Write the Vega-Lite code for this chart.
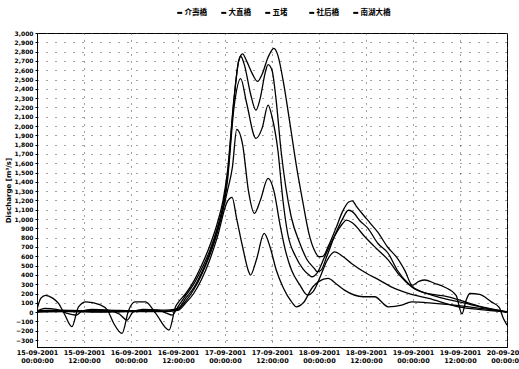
{
  "$schema": "https://vega.github.io/schema/vega-lite/v6.json",
  "autosize": "none",
  "width": 470,
  "height": 314,
  "padding": {"left": 37, "top": 33, "right": 12, "bottom": 22},
  "background": "white",
  "config": {
    "font": "DejaVu Sans",
    "view": {"stroke": "black", "strokeWidth": 1},
    "axis": {"labelFont": "DejaVu Sans", "titleFont": "DejaVu Sans", "labelColor": "black", "titleColor": "black", "domainColor": "black", "tickColor": "black"}
  },
  "datasets": {
    "flow": [
      {"s":"大直橋","t":"2001-09-15T00:00","v":30},{"s":"大直橋","t":"2001-09-15T01:00","v":150},{"s":"大直橋","t":"2001-09-15T02:12","v":180},{"s":"大直橋","t":"2001-09-15T04:00","v":150},{"s":"大直橋","t":"2001-09-15T05:30","v":93},{"s":"大直橋","t":"2001-09-15T07:00","v":-20},{"s":"大直橋","t":"2001-09-15T08:54","v":-157},{"s":"大直橋","t":"2001-09-15T10:36","v":57},{"s":"大直橋","t":"2001-09-15T12:30","v":110},{"s":"大直橋","t":"2001-09-15T16:00","v":80},{"s":"大直橋","t":"2001-09-15T18:00","v":20},{"s":"大直橋","t":"2001-09-15T19:36","v":-122},{"s":"大直橋","t":"2001-09-15T21:42","v":-229},{"s":"大直橋","t":"2001-09-15T23:24","v":21},{"s":"大直橋","t":"2001-09-16T01:00","v":110},{"s":"大直橋","t":"2001-09-16T03:42","v":110},{"s":"大直橋","t":"2001-09-16T06:18","v":-14},{"s":"大直橋","t":"2001-09-16T09:42","v":-193},{"s":"大直橋","t":"2001-09-16T11:24","v":60},{"s":"大直橋","t":"2001-09-16T12:00","v":100},{"s":"大直橋","t":"2001-09-16T14:00","v":200},{"s":"大直橋","t":"2001-09-16T16:00","v":330},{"s":"大直橋","t":"2001-09-16T18:00","v":500},{"s":"大直橋","t":"2001-09-16T20:00","v":700},{"s":"大直橋","t":"2001-09-16T22:00","v":950},{"s":"大直橋","t":"2001-09-16T23:30","v":1200},{"s":"大直橋","t":"2001-09-17T00:36","v":1500},{"s":"大直橋","t":"2001-09-17T02:18","v":2300},{"s":"大直橋","t":"2001-09-17T03:30","v":2700},{"s":"大直橋","t":"2001-09-17T04:30","v":2775},{"s":"大直橋","t":"2001-09-17T05:30","v":2700},{"s":"大直橋","t":"2001-09-17T07:00","v":2560},{"s":"大直橋","t":"2001-09-17T08:18","v":2480},{"s":"大直橋","t":"2001-09-17T09:30","v":2560},{"s":"大直橋","t":"2001-09-17T11:00","v":2740},{"s":"大直橋","t":"2001-09-17T12:30","v":2835},{"s":"大直橋","t":"2001-09-17T13:30","v":2760},{"s":"大直橋","t":"2001-09-17T15:00","v":2450},{"s":"大直橋","t":"2001-09-17T16:30","v":2050},{"s":"大直橋","t":"2001-09-17T18:12","v":1580},{"s":"大直橋","t":"2001-09-17T19:48","v":1200},{"s":"大直橋","t":"2001-09-17T21:24","v":850},{"s":"大直橋","t":"2001-09-17T22:48","v":667},{"s":"大直橋","t":"2001-09-18T00:00","v":595},{"s":"大直橋","t":"2001-09-18T01:00","v":600},{"s":"大直橋","t":"2001-09-18T02:30","v":720},{"s":"大直橋","t":"2001-09-18T04:18","v":900},{"s":"大直橋","t":"2001-09-18T06:00","v":1080},{"s":"大直橋","t":"2001-09-18T07:30","v":1180},{"s":"大直橋","t":"2001-09-18T08:30","v":1195},{"s":"大直橋","t":"2001-09-18T09:30","v":1140},{"s":"大直橋","t":"2001-09-18T11:00","v":1060},{"s":"大直橋","t":"2001-09-18T13:00","v":960},{"s":"大直橋","t":"2001-09-18T15:00","v":860},{"s":"大直橋","t":"2001-09-18T17:30","v":700},{"s":"大直橋","t":"2001-09-18T20:00","v":580},{"s":"大直橋","t":"2001-09-18T22:00","v":440},{"s":"大直橋","t":"2001-09-18T23:48","v":290},{"s":"大直橋","t":"2001-09-19T01:30","v":330},{"s":"大直橋","t":"2001-09-19T03:00","v":345},{"s":"大直橋","t":"2001-09-19T05:30","v":310},{"s":"大直橋","t":"2001-09-19T08:00","v":270},{"s":"大直橋","t":"2001-09-19T11:00","v":180},{"s":"大直橋","t":"2001-09-19T12:30","v":-20},{"s":"大直橋","t":"2001-09-19T13:30","v":120},{"s":"大直橋","t":"2001-09-19T14:30","v":200},{"s":"大直橋","t":"2001-09-19T17:00","v":190},{"s":"大直橋","t":"2001-09-19T20:00","v":110},{"s":"大直橋","t":"2001-09-19T22:00","v":50},{"s":"大直橋","t":"2001-09-19T23:00","v":-60},{"s":"大直橋","t":"2001-09-20T00:00","v":-140},

      {"s":"南湖大橋","t":"2001-09-15T00:00","v":10},{"s":"南湖大橋","t":"2001-09-15T02:00","v":40},{"s":"南湖大橋","t":"2001-09-15T05:00","v":30},{"s":"南湖大橋","t":"2001-09-15T07:30","v":-10},{"s":"南湖大橋","t":"2001-09-15T10:00","v":-32},{"s":"南湖大橋","t":"2001-09-15T11:30","v":10},{"s":"南湖大橋","t":"2001-09-15T14:00","v":30},{"s":"南湖大橋","t":"2001-09-15T18:00","v":20},{"s":"南湖大橋","t":"2001-09-15T21:00","v":-20},{"s":"南湖大橋","t":"2001-09-15T23:00","v":-86},{"s":"南湖大橋","t":"2001-09-16T00:30","v":0},{"s":"南湖大橋","t":"2001-09-16T03:00","v":30},{"s":"南湖大橋","t":"2001-09-16T07:00","v":20},{"s":"南湖大橋","t":"2001-09-16T09:00","v":-10},{"s":"南湖大橋","t":"2001-09-16T10:30","v":-32},{"s":"南湖大橋","t":"2001-09-16T12:00","v":60},{"s":"南湖大橋","t":"2001-09-16T14:00","v":180},{"s":"南湖大橋","t":"2001-09-16T16:00","v":300},{"s":"南湖大橋","t":"2001-09-16T18:00","v":460},{"s":"南湖大橋","t":"2001-09-16T20:00","v":650},{"s":"南湖大橋","t":"2001-09-16T22:00","v":900},{"s":"南湖大橋","t":"2001-09-16T23:30","v":1150},{"s":"南湖大橋","t":"2001-09-17T00:36","v":1450},{"s":"南湖大橋","t":"2001-09-17T02:18","v":2280},{"s":"南湖大橋","t":"2001-09-17T03:30","v":2700},{"s":"南湖大橋","t":"2001-09-17T04:00","v":2750},{"s":"南湖大橋","t":"2001-09-17T05:00","v":2650},{"s":"南湖大橋","t":"2001-09-17T06:30","v":2350},{"s":"南湖大橋","t":"2001-09-17T07:54","v":2170},{"s":"南湖大橋","t":"2001-09-17T09:00","v":2300},{"s":"南湖大橋","t":"2001-09-17T10:18","v":2580},{"s":"南湖大橋","t":"2001-09-17T11:00","v":2660},{"s":"南湖大橋","t":"2001-09-17T12:00","v":2600},{"s":"南湖大橋","t":"2001-09-17T13:00","v":2300},{"s":"南湖大橋","t":"2001-09-17T14:18","v":1740},{"s":"南湖大橋","t":"2001-09-17T15:30","v":1350},{"s":"南湖大橋","t":"2001-09-17T16:54","v":1025},{"s":"南湖大橋","t":"2001-09-17T19:00","v":750},{"s":"南湖大橋","t":"2001-09-17T21:00","v":560},{"s":"南湖大橋","t":"2001-09-17T22:48","v":470},{"s":"南湖大橋","t":"2001-09-17T23:30","v":435},{"s":"南湖大橋","t":"2001-09-18T00:30","v":450},{"s":"南湖大橋","t":"2001-09-18T02:00","v":600},{"s":"南湖大橋","t":"2001-09-18T04:00","v":820},{"s":"南湖大橋","t":"2001-09-18T06:00","v":1000},{"s":"南湖大橋","t":"2001-09-18T07:30","v":1095},{"s":"南湖大橋","t":"2001-09-18T08:30","v":1080},{"s":"南湖大橋","t":"2001-09-18T10:30","v":980},{"s":"南湖大橋","t":"2001-09-18T12:30","v":900},{"s":"南湖大橋","t":"2001-09-18T15:00","v":740},{"s":"南湖大橋","t":"2001-09-18T17:42","v":630},{"s":"南湖大橋","t":"2001-09-18T20:00","v":450},{"s":"南湖大橋","t":"2001-09-18T22:48","v":308},{"s":"南湖大橋","t":"2001-09-19T02:12","v":218},{"s":"南湖大橋","t":"2001-09-19T09:00","v":165},{"s":"南湖大橋","t":"2001-09-19T17:36","v":57},{"s":"南湖大橋","t":"2001-09-20T00:00","v":5},

      {"s":"社后橋","t":"2001-09-15T00:00","v":15},{"s":"社后橋","t":"2001-09-15T06:00","v":20},{"s":"社后橋","t":"2001-09-15T12:00","v":15},{"s":"社后橋","t":"2001-09-15T18:00","v":20},{"s":"社后橋","t":"2001-09-16T00:00","v":15},{"s":"社后橋","t":"2001-09-16T06:00","v":20},{"s":"社后橋","t":"2001-09-16T10:00","v":25},{"s":"社后橋","t":"2001-09-16T12:00","v":40},{"s":"社后橋","t":"2001-09-16T14:00","v":150},{"s":"社后橋","t":"2001-09-16T16:00","v":260},{"s":"社后橋","t":"2001-09-16T18:00","v":420},{"s":"社后橋","t":"2001-09-16T20:00","v":620},{"s":"社后橋","t":"2001-09-16T22:00","v":880},{"s":"社后橋","t":"2001-09-17T00:36","v":1400},{"s":"社后橋","t":"2001-09-17T02:18","v":2200},{"s":"社后橋","t":"2001-09-17T04:00","v":2510},{"s":"社后橋","t":"2001-09-17T05:30","v":2250},{"s":"社后橋","t":"2001-09-17T07:54","v":1867},{"s":"社后橋","t":"2001-09-17T09:30","v":1980},{"s":"社后橋","t":"2001-09-17T11:00","v":2225},{"s":"社后橋","t":"2001-09-17T12:00","v":2100},{"s":"社后橋","t":"2001-09-17T13:30","v":1740},{"s":"社后橋","t":"2001-09-17T14:48","v":1200},{"s":"社后橋","t":"2001-09-17T16:00","v":845},{"s":"社后橋","t":"2001-09-17T18:00","v":600},{"s":"社后橋","t":"2001-09-17T20:00","v":460},{"s":"社后橋","t":"2001-09-17T21:30","v":398},{"s":"社后橋","t":"2001-09-17T22:12","v":380},{"s":"社后橋","t":"2001-09-17T23:30","v":420},{"s":"社后橋","t":"2001-09-18T01:30","v":600},{"s":"社后橋","t":"2001-09-18T04:00","v":820},{"s":"社后橋","t":"2001-09-18T06:00","v":950},{"s":"社后橋","t":"2001-09-18T07:00","v":989},{"s":"社后橋","t":"2001-09-18T08:30","v":960},{"s":"社后橋","t":"2001-09-18T11:42","v":810},{"s":"社后橋","t":"2001-09-18T14:30","v":690},{"s":"社后橋","t":"2001-09-18T17:42","v":559},{"s":"社后橋","t":"2001-09-18T20:30","v":400},{"s":"社后橋","t":"2001-09-18T23:36","v":272},{"s":"社后橋","t":"2001-09-19T04:48","v":183},{"s":"社后橋","t":"2001-09-19T13:12","v":97},{"s":"社后橋","t":"2001-09-19T19:00","v":40},{"s":"社后橋","t":"2001-09-20T00:00","v":0},

      {"s":"五堵","t":"2001-09-15T00:00","v":5},{"s":"五堵","t":"2001-09-15T08:00","v":10},{"s":"五堵","t":"2001-09-15T16:00","v":5},{"s":"五堵","t":"2001-09-16T00:00","v":10},{"s":"五堵","t":"2001-09-16T08:00","v":10},{"s":"五堵","t":"2001-09-16T12:00","v":30},{"s":"五堵","t":"2001-09-16T14:00","v":120},{"s":"五堵","t":"2001-09-16T16:00","v":240},{"s":"五堵","t":"2001-09-16T18:00","v":400},{"s":"五堵","t":"2001-09-16T20:00","v":600},{"s":"五堵","t":"2001-09-16T22:00","v":850},{"s":"五堵","t":"2001-09-17T00:36","v":1300},{"s":"五堵","t":"2001-09-17T01:54","v":1560},{"s":"五堵","t":"2001-09-17T03:00","v":1964},{"s":"五堵","t":"2001-09-17T04:30","v":1800},{"s":"五堵","t":"2001-09-17T06:00","v":1300},{"s":"五堵","t":"2001-09-17T07:30","v":1061},{"s":"五堵","t":"2001-09-17T09:00","v":1200},{"s":"五堵","t":"2001-09-17T11:00","v":1437},{"s":"五堵","t":"2001-09-17T12:30","v":1300},{"s":"五堵","t":"2001-09-17T14:00","v":950},{"s":"五堵","t":"2001-09-17T15:30","v":650},{"s":"五堵","t":"2001-09-17T17:00","v":450},{"s":"五堵","t":"2001-09-17T19:00","v":300},{"s":"五堵","t":"2001-09-17T21:06","v":183},{"s":"五堵","t":"2001-09-17T22:30","v":220},{"s":"五堵","t":"2001-09-18T00:30","v":400},{"s":"五堵","t":"2001-09-18T02:00","v":550},{"s":"五堵","t":"2001-09-18T04:00","v":648},{"s":"五堵","t":"2001-09-18T06:00","v":600},{"s":"五堵","t":"2001-09-18T08:18","v":523},{"s":"五堵","t":"2001-09-18T12:00","v":420},{"s":"五堵","t":"2001-09-18T15:24","v":344},{"s":"五堵","t":"2001-09-18T19:00","v":260},{"s":"五堵","t":"2001-09-18T22:48","v":201},{"s":"五堵","t":"2001-09-19T04:00","v":147},{"s":"五堵","t":"2001-09-19T11:36","v":57},{"s":"五堵","t":"2001-09-19T18:00","v":25},{"s":"五堵","t":"2001-09-20T00:00","v":0},

      {"s":"介壽橋","t":"2001-09-15T00:00","v":0},{"s":"介壽橋","t":"2001-09-15T08:00","v":5},{"s":"介壽橋","t":"2001-09-15T16:00","v":0},{"s":"介壽橋","t":"2001-09-16T00:00","v":5},{"s":"介壽橋","t":"2001-09-16T08:00","v":5},{"s":"介壽橋","t":"2001-09-16T12:00","v":20},{"s":"介壽橋","t":"2001-09-16T14:00","v":100},{"s":"介壽橋","t":"2001-09-16T16:00","v":200},{"s":"介壽橋","t":"2001-09-16T18:00","v":350},{"s":"介壽橋","t":"2001-09-16T20:00","v":550},{"s":"介壽橋","t":"2001-09-16T22:00","v":800},{"s":"介壽橋","t":"2001-09-17T00:30","v":1180},{"s":"介壽橋","t":"2001-09-17T01:48","v":1233},{"s":"介壽橋","t":"2001-09-17T03:00","v":1000},{"s":"介壽橋","t":"2001-09-17T04:30","v":700},{"s":"介壽橋","t":"2001-09-17T06:00","v":440},{"s":"介壽橋","t":"2001-09-17T06:30","v":398},{"s":"介壽橋","t":"2001-09-17T08:00","v":560},{"s":"介壽橋","t":"2001-09-17T10:00","v":846},{"s":"介壽橋","t":"2001-09-17T11:30","v":700},{"s":"介壽橋","t":"2001-09-17T13:06","v":450},{"s":"介壽橋","t":"2001-09-17T14:54","v":260},{"s":"介壽橋","t":"2001-09-17T17:00","v":110},{"s":"介壽橋","t":"2001-09-17T18:12","v":57},{"s":"介壽橋","t":"2001-09-17T20:00","v":100},{"s":"介壽橋","t":"2001-09-17T22:24","v":270},{"s":"介壽橋","t":"2001-09-18T00:00","v":330},{"s":"介壽橋","t":"2001-09-18T02:18","v":362},{"s":"介壽橋","t":"2001-09-18T04:30","v":300},{"s":"介壽橋","t":"2001-09-18T06:30","v":236},{"s":"介壽橋","t":"2001-09-18T11:18","v":165},{"s":"介壽橋","t":"2001-09-18T14:12","v":165},{"s":"介壽橋","t":"2001-09-18T17:42","v":57},{"s":"介壽橋","t":"2001-09-18T21:06","v":75},{"s":"介壽橋","t":"2001-09-18T23:36","v":110},{"s":"介壽橋","t":"2001-09-19T05:30","v":93},{"s":"介壽橋","t":"2001-09-19T14:18","v":57},{"s":"介壽橋","t":"2001-09-20T00:00","v":0}
    ]
  },
  "data": {"name": "flow"},
  "mark": {"type": "line", "interpolate": "monotone", "strokeWidth": 1.3, "clip": true},
  "encoding": {
    "x": {
      "field": "t", "type": "temporal",
      "scale": {"domain": [{"year": 2001, "month": 9, "date": 15, "hours": 0}, {"year": 2001, "month": 9, "date": 20, "hours": 0}]},
      "axis": {
        "title": null,
        "values": [
          {"year": 2001, "month": 9, "date": 15, "hours": 0}, {"year": 2001, "month": 9, "date": 15, "hours": 12},
          {"year": 2001, "month": 9, "date": 16, "hours": 0}, {"year": 2001, "month": 9, "date": 16, "hours": 12},
          {"year": 2001, "month": 9, "date": 17, "hours": 0}, {"year": 2001, "month": 9, "date": 17, "hours": 12},
          {"year": 2001, "month": 9, "date": 18, "hours": 0}, {"year": 2001, "month": 9, "date": 18, "hours": 12},
          {"year": 2001, "month": 9, "date": 19, "hours": 0}, {"year": 2001, "month": 9, "date": 19, "hours": 12},
          {"year": 2001, "month": 9, "date": 20, "hours": 0}
        ],
        "labelExpr": "[timeFormat(datum.value, '%d-%m-%Y'), timeFormat(datum.value, '%H:%M:%S')]",
        "labelFontSize": 6.5, "labelFontWeight": "bold", "labelLineHeight": 8,
        "labelOverlap": false, "labelFlush": false, "labelPadding": 2,
        "tickSize": 0, "domain": true,
        "grid": true, "gridDash": [1, 6], "gridColor": "#444", "gridWidth": 1
      }
    },
    "y": {
      "field": "v", "type": "quantitative",
      "scale": {"domain": [-375, 3000], "nice": false, "zero": false},
      "axis": {
        "title": "Discharge [m³/s]",
        "titleFontSize": 7, "titleFontWeight": "bold", "titlePadding": 3,
        "values": [-300,-200,-100,0,100,200,300,400,500,600,700,800,900,1000,1100,1200,1300,1400,1500,1600,1700,1800,1900,2000,2100,2200,2300,2400,2500,2600,2700,2800,2900,3000],
        "format": ",.0f",
        "labelFontSize": 6, "labelFontWeight": "bold", "labelPadding": 2,
        "tickSize": 2,
        "grid": true, "gridDash": [1, 8], "gridColor": "#444", "gridWidth": 1
      }
    },
    "color": {
      "field": "s", "type": "nominal",
      "scale": {"domain": ["介壽橋", "大直橋", "五堵", "社后橋", "南湖大橋"], "range": ["black", "black", "black", "black", "black"]},
      "legend": {
        "title": null, "orient": "none", "legendX": 139, "legendY": -24,
        "direction": "horizontal", "columns": 5, "gridAlign": "all", "columnPadding": 2,
        "symbolType": "stroke", "symbolSize": 25, "symbolStrokeWidth": 2, "symbolOffset": 0,
        "labelFont": "Noto Sans CJK TC", "labelFontSize": 7.5, "labelFontWeight": "bold", "labelOffset": 1
      }
    }
  }
}
